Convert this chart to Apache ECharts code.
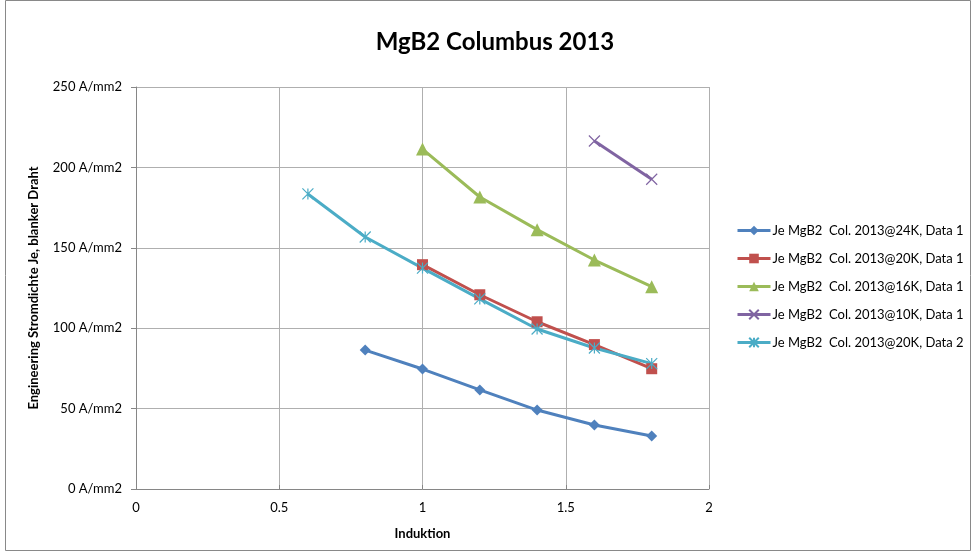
<!DOCTYPE html>
<html><head><meta charset="utf-8">
<script src="https://cdn.jsdelivr.net/npm/echarts@6/dist/echarts.min.js"></script>
<style>html,body{margin:0;padding:0;background:#fff}#c{width:973px;height:556px}</style>
</head><body><div id="c"></div>
<script>
const seriesNames = [
  'Je MgB2  Col. 2013@24K, Data 1',
  'Je MgB2  Col. 2013@20K, Data 1',
  'Je MgB2  Col. 2013@16K, Data 1',
  'Je MgB2  Col. 2013@10K, Data 1',
  'Je MgB2  Col. 2013@20K, Data 2'
];
const x24 = [0.8, 1.0, 1.2, 1.4, 1.6, 1.8];
const y24 = [86.4, 74.6, 61.6, 49.1, 39.8, 33.0];
const x20a = [1.0, 1.2, 1.4, 1.6, 1.8];
const y20a = [139.5, 120.8, 104.0, 89.8, 74.8];
const x16 = [1.0, 1.2, 1.4, 1.6, 1.8];
const y16 = [211.4, 181.6, 161.3, 142.4, 125.8];
const x10 = [1.6, 1.8];
const y10 = [216.4, 192.6];
const x20b = [0.6, 0.8, 1.0, 1.2, 1.4, 1.6, 1.8];
const y20b = [183.5, 156.7, 137.4, 118.2, 99.5, 87.7, 78.0];
const xTicks = [0, 0.5, 1, 1.5, 2];
const yTicks = [0, 50, 100, 150, 200, 250];

const colors = ['#4F81BD', '#C0504D', '#9BBB59', '#8064A2', '#4BACC6'];
const xPath = 'path://M0,0L10,10M10,0L0,10';
const starPath = 'path://M0,0L10,10M10,0L0,10M5,0L5,10';
const symbols = ['diamond', 'rect', 'triangle', xPath, starPath];
const symSizes = [11, 11, 13, 11, 11];
const xs = [x24, x20a, x16, x10, x20b];
const ys = [y24, y20a, y16, y10, y20b];

const series = seriesNames.map((n, i) => {
  const stroke = i >= 3;
  return {
    name: n, type: 'line',
    data: xs[i].map((x, j) => [x, ys[i][j]]),
    symbol: symbols[i], symbolSize: symSizes[i],
    showAllSymbol: true,
    lineStyle: {color: colors[i], width: 3},
    itemStyle: stroke ? {color: colors[i], borderColor: colors[i], borderWidth: 1.2} : {color: colors[i]},
    emphasis: {disabled: true},
    animation: false
  };
});

const font = 'Lato, Liberation Sans, Arial, sans-serif';
const chart = echarts.init(document.getElementById('c'), null, {renderer: 'canvas'});
chart.setOption({
  backgroundColor: '#fff',
  animation: false,
  color: colors,
  graphic: [{type: 'rect', shape: {x: 5.5, y: 0.5, width: 965, height: 550}, style: {fill: 'none', stroke: '#898989', lineWidth: 1}}],
  title: {text: 'MgB2 Columbus 2013', left: 490, textAlign: 'center', top: 25, textStyle: {fontFamily: font, fontSize: 24, fontWeight: 'bold', color: '#000'}},
  legend: {
    orient: 'vertical', left: 736, top: 224, padding: 0, itemGap: 15, itemWidth: 33, itemHeight: 12,
    lineStyle: {width: 3},
    textStyle: {fontFamily: font, fontSize: 13, color: '#000', padding: [0, 0, 0, -3]},
    data: seriesNames
  },
  grid: {left: 136, right: 264, top: 87, bottom: 67},
  xAxis: {
    type: 'value', min: 0, max: 2, interval: 0.5,
    name: 'Induktion', nameLocation: 'middle', nameGap: 38,
    nameTextStyle: {fontFamily: font, fontSize: 13, fontWeight: 'bold', color: '#000'},
    axisLine: {show: true, lineStyle: {color: '#868686', width: 1}},
    axisTick: {show: true, inside: true, length: 4, lineStyle: {color: '#868686'}},
    axisLabel: {fontFamily: font, fontSize: 13, color: '#000', margin: 12, formatter: v => String(v)},
    splitLine: {show: true, lineStyle: {color: '#AFAFAF', width: 1}}
  },
  yAxis: {
    type: 'value', min: 0, max: 250, interval: 50,
    name: 'Engineering Stromdichte Je, blanker Draht', nameLocation: 'middle', nameGap: 96,
    nameTextStyle: {fontFamily: font, fontSize: 13, fontWeight: 'bold', color: '#000'},
    axisLine: {show: true, lineStyle: {color: '#868686', width: 1}},
    axisTick: {show: true, length: 5, lineStyle: {color: '#868686'}},
    axisLabel: {fontFamily: font, fontSize: 13, color: '#000', margin: 14, formatter: '{value} A/mm2'},
    splitLine: {show: true, lineStyle: {color: '#AFAFAF', width: 1}}
  },
  series: series
});
</script></body></html>
